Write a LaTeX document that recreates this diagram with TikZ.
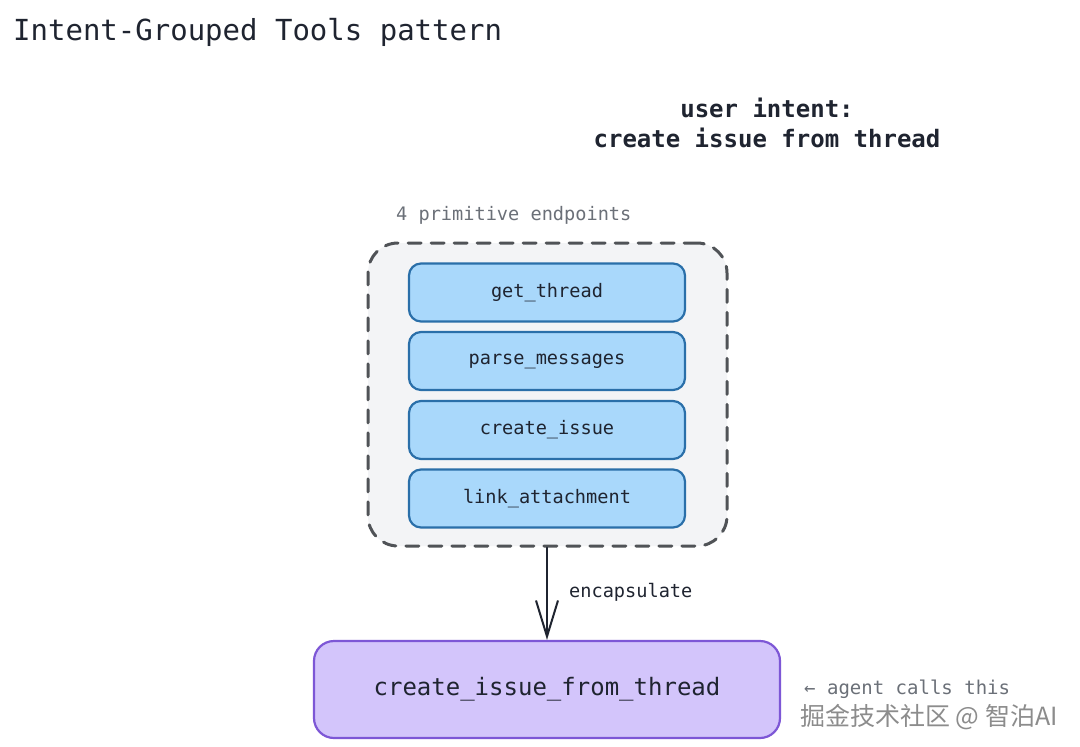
\documentclass[tikz,border=0pt]{standalone}
\usepackage{fontspec}
\setmonofont{DejaVu Sans Mono}
\newfontfamily\cjkfont{Noto Sans CJK SC}
\usetikzlibrary{arrows.meta}
\definecolor{inkdark}{HTML}{1F2430}
\definecolor{inkgrey}{HTML}{6B7078}
\definecolor{groupfill}{HTML}{F3F4F6}
\definecolor{groupline}{HTML}{505357}
\definecolor{toolfill}{HTML}{A9D8FB}
\definecolor{toolline}{HTML}{2A6FA9}
\definecolor{combofill}{HTML}{D3C5FB}
\definecolor{comboline}{HTML}{7D57D6}
\tikzset{
  toolbox/.style={draw=toolline, fill=toolfill, line width=2.2pt, rounded corners=12pt,
    minimum width=276pt, minimum height=58pt, text=inkdark,
    font=\ttfamily\fontsize{18.6}{22}\selectfont},
  combobox/.style={draw=comboline, fill=combofill, line width=2.2pt, rounded corners=20pt,
    minimum width=466pt, minimum height=97pt, text=inkdark,
    font=\ttfamily\fontsize{24}{28}\selectfont},
  note/.style={inner sep=0pt, anchor=base west, text=inkgrey,
    font=\ttfamily\fontsize{18.6}{22}\selectfont}
}
\begin{document}
\begin{tikzpicture}[x=1pt, y=-1pt, line cap=round, line join=round]
	\useasboundingbox[fill=white] (0,0) rectangle (1080,747);
	% Title
	\node[inner sep=0pt, anchor=base west, text=inkdark, font=\ttfamily\fontsize{29}{34}\selectfont]
		(title) at (13,40) {Intent-Grouped Tools pattern};
	% User intent
	\node[inner sep=0pt, anchor=base, align=center, text=inkdark, font=\ttfamily\bfseries\fontsize{24}{30}\selectfont]
		(intent) at (767,147) {user intent:\\create issue from thread};
	% Dashed group of primitive endpoints
	\node[note] (grouplabel) at (396,220) {4 primitive endpoints};
	\node[draw=groupline, fill=groupfill, line width=3pt, dash pattern=on 13pt off 10pt,
		rounded corners=30pt, minimum width=359pt, minimum height=303pt] (group) at (547.5,394.5) {};
	\node[toolbox] (getthread) at (547,292.5) {get\_thread};
	\node[toolbox] (parse) at (547,361) {parse\_messages};
	\node[toolbox] (create) at (547,430) {create\_issue};
	\node[toolbox] (link) at (547,498.5) {link\_attachment};
	% Combined tool
	\node[combobox] (combo) at (547,689.5) {create\_issue\_from\_thread};
	\draw[inkdark, line width=2pt, -{Straight Barb[length=36pt, width=22pt, line width=2pt]}]
		(group.south -| combo.north) -- (combo.north);
	\node[note, text=inkdark] (encap) at (569,597) {encapsulate};
	\node[note, font=\ttfamily\fontsize{19}{22}\selectfont] (callnote) at (804,694) {← agent calls this};
	% Watermark
	\node[inner sep=0pt, anchor=base west, text=black!45, font=\cjkfont\fontsize{25}{28}\selectfont]
		(mark) at (800,725) {掘金技术社区 @ 智泊AI};
\end{tikzpicture}
\end{document}
